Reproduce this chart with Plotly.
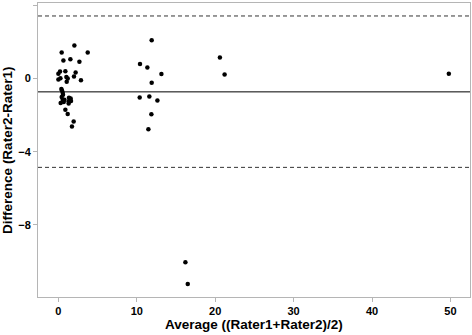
import plotly.graph_objects as go

avg = [2.04, 0.42, 3.74, 1.53, 0.64, 2.68, 10.41, 11.35, 0.21, 0.89, 0.0, 2.2, 13.14,
       1.99, 1.02, 0.0, 0.26, 1.19, 2.88, 1.06, 11.9, 0.38, 0.46, 0.55, 0.59, 0.42,
       10.37, 11.6, 1.35, 1.57, 0.55, 0.77, 1.31, 1.61, 12.63, 0.29, 0.68, 1.31, 0.89,
       1.19, 11.86, 1.95, 1.73, 11.48, 11.9, 20.6, 21.2, 49.8, 16.2, 16.5]
diff = [1.80, 1.42, 1.42, 1.06, 0.98, 0.91, 0.79, 0.60, 0.38, 0.40, 0.26, 0.33, 0.24,
        0.11, 0.08, -0.05, 0.02, 0.0, -0.09, -0.18, -0.23, -0.58, -0.65, -0.78, -0.89, -1.01,
        -1.04, -0.98, -1.05, -1.09, -1.16, -1.16, -1.25, -1.23, -1.20, -1.34, -1.29, -1.36, -1.71,
        -1.94, -1.96, -2.35, -2.62, -2.78, 2.09, 1.15, 0.22, 0.26, -10.05, -11.24]
mean_diff = -0.73
upper_loa = 3.42
lower_loa = -4.86
x_ticks = [0, 10, 20, 30, 40, 50]
y_ticks = [-8, -4, 0, 4]

fig = go.Figure()
fig.add_trace(go.Scatter(x=avg, y=diff, mode="markers",
                         marker=dict(color="black", size=4.5), showlegend=False))
fig.add_hline(y=mean_diff, line=dict(color="black", width=1))
fig.add_hline(y=upper_loa, line=dict(color="#333333", width=1, dash="4px,3px"))
fig.add_hline(y=lower_loa, line=dict(color="#333333", width=1, dash="4px,3px"))

axis_common = dict(showgrid=False, zeroline=False, showline=True, mirror=True,
                   linecolor="#b5b5b5", linewidth=1, ticks="outside", ticklen=4,
                   tickcolor="#b5b5b5", tickwidth=1,
                   tickfont=dict(family="Liberation Sans", size=11, color="black", weight="bold"))
fig.update_xaxes(range=[-2.6, 52.5], tickvals=x_ticks, **axis_common)
fig.update_yaxes(range=[-11.95, 4.13], tickvals=y_ticks, **axis_common)

fig.add_annotation(text="<b>Average ((Rater1+Rater2)/2)</b>", xref="paper", yref="paper",
                   x=0.5, y=-0.094, xanchor="center", yanchor="middle", showarrow=False,
                   font=dict(family="Liberation Sans", size=13.5, color="black"))
fig.add_annotation(text="<b>Difference (Rater2-Rater1)</b>", xref="paper", yref="paper",
                   x=-0.072, y=0.5, xanchor="center", yanchor="middle", showarrow=False,
                   textangle=-90, font=dict(family="Liberation Sans", size=13.5, color="black"))

fig.update_layout(width=472, height=335, margin=dict(l=38, r=2, t=3, b=38),
                  plot_bgcolor="white", paper_bgcolor="white")
fig.write_html("out.html", config={"displayModeBar": False},
               post_script="document.body.style.margin='0';document.body.style.overflow='hidden';")
